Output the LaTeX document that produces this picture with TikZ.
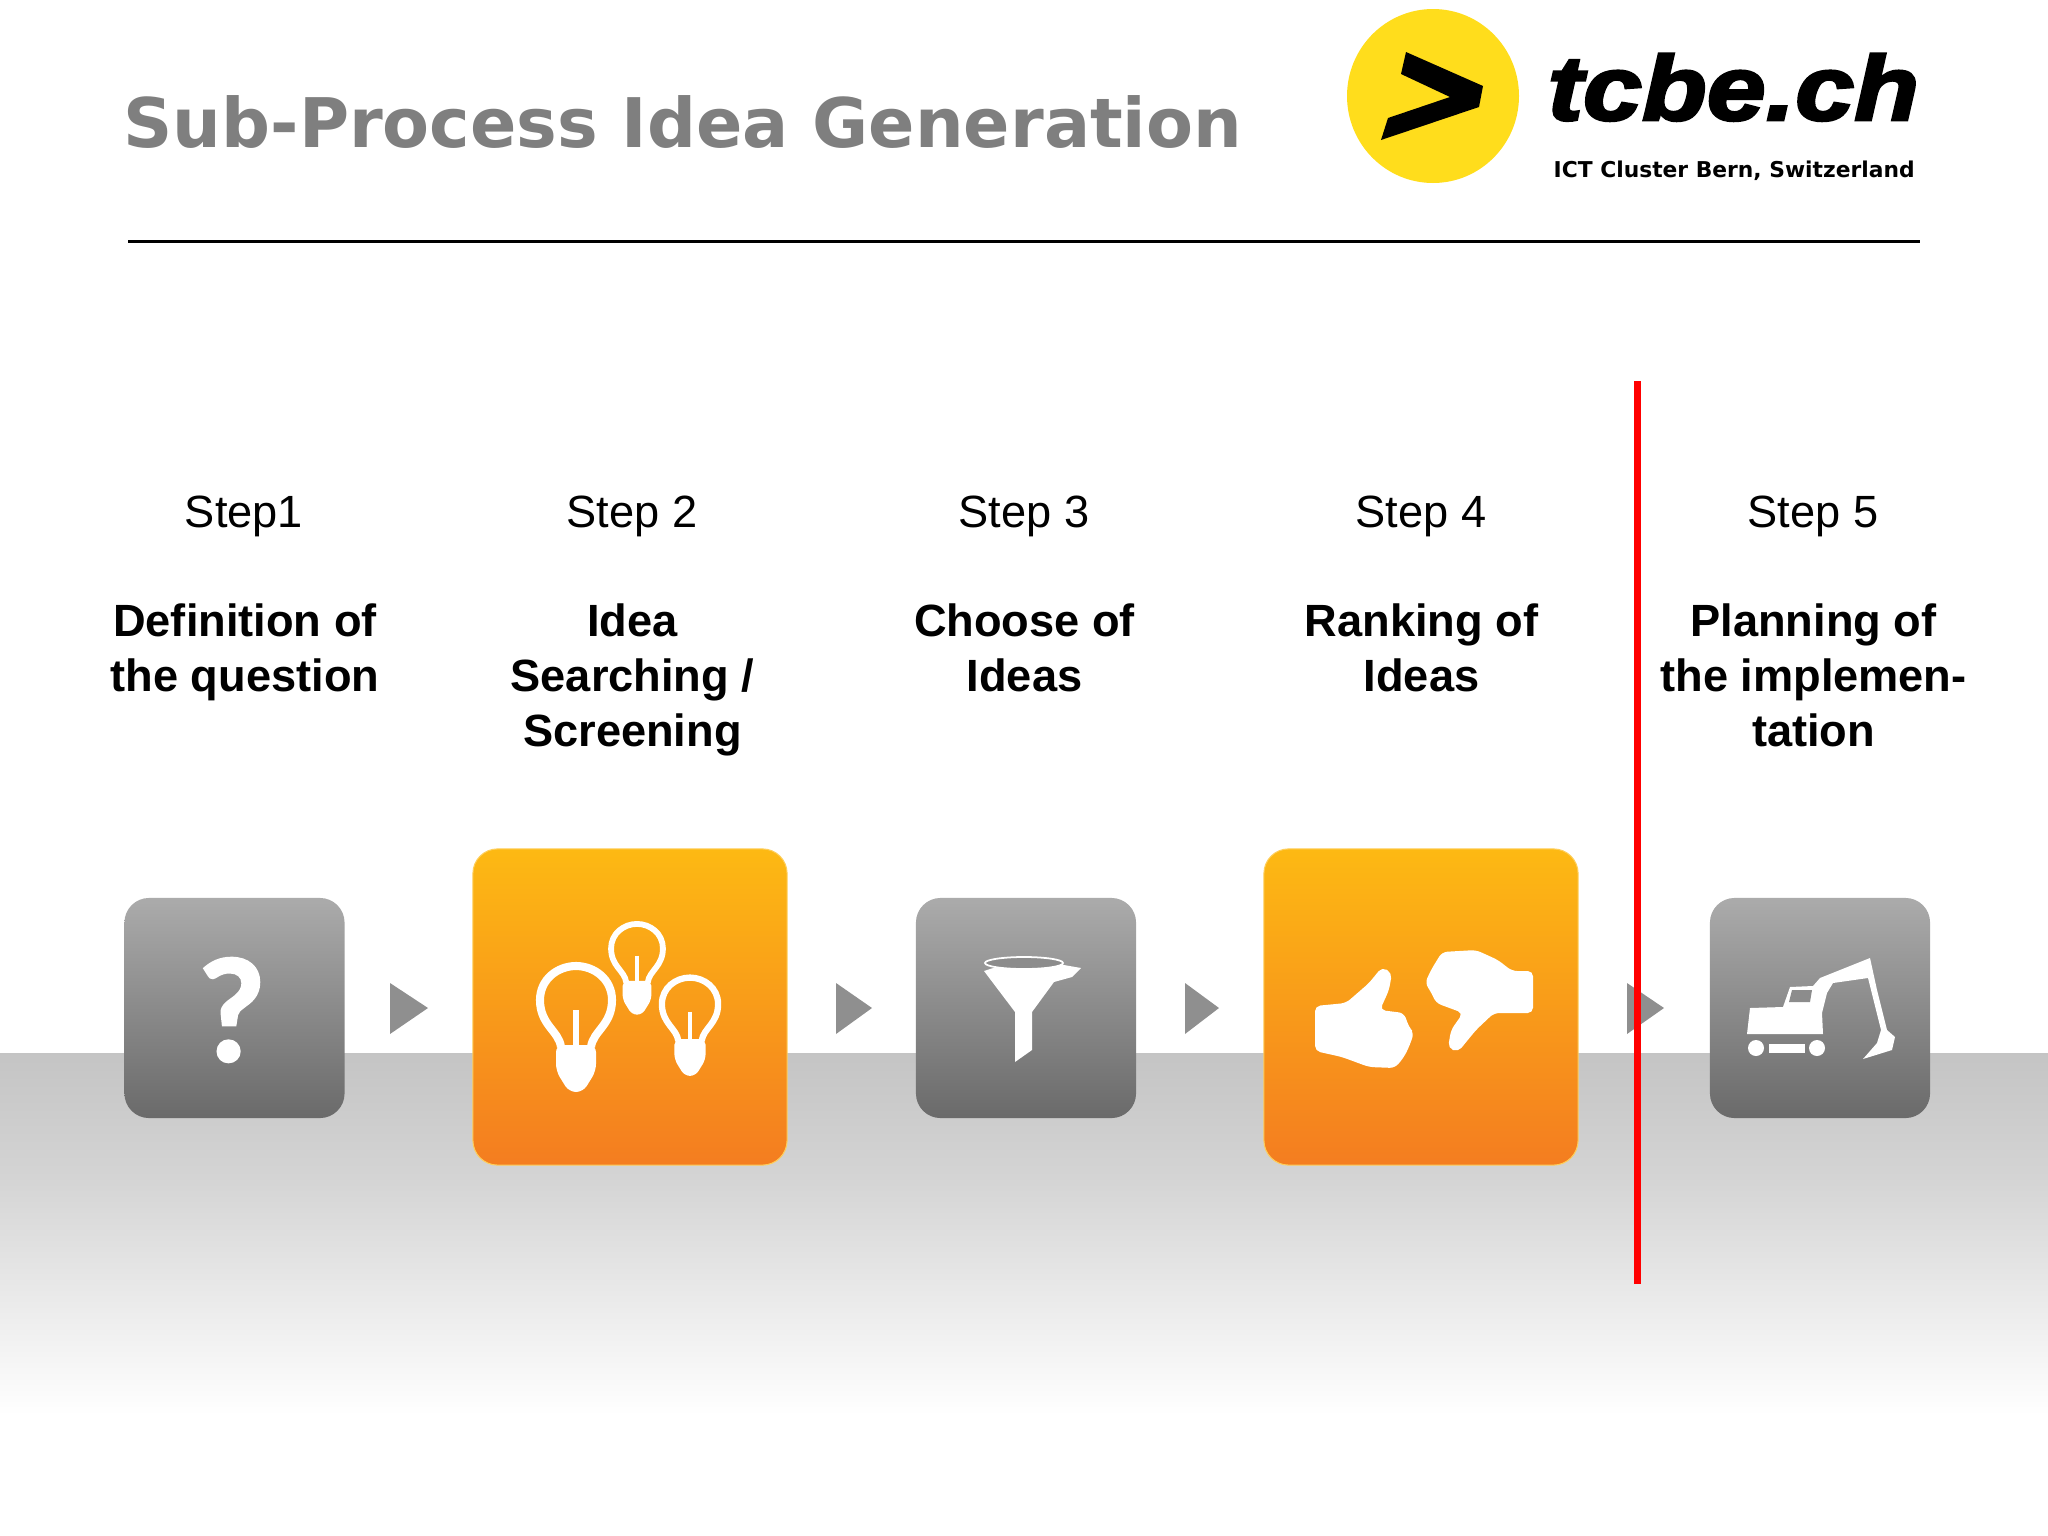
\documentclass[tikz,border=0pt]{standalone}
\usepackage{fontspec}
\setmainfont{Liberation Sans}
\newfontfamily\titlefont{DejaVu Sans}
\newfontfamily\questfont[BoldFeatures={FakeBold=2}]{Lato}
\newfontfamily\logofont[BoldItalicFeatures={FakeBold=3,FakeStretch=1.16}]{Liberation Sans}
\usetikzlibrary{shapes.geometric, positioning}
\definecolor{titlegray}{HTML}{7F7F7F}
\definecolor{tri}{HTML}{8F8F8F}
\definecolor{boxtop}{HTML}{ABABAB}
\definecolor{boxbot}{HTML}{6A6A6A}
\definecolor{ortop}{HTML}{FDB913}
\definecolor{orbot}{HTML}{F47D20}
\definecolor{logoy}{HTML}{FFDD1C}
\definecolor{icongray}{HTML}{8C8C8C}
\tikzset{
	graybox/.style={rounded corners=7pt, minimum width=2.2cm, minimum height=2.2cm, top color=boxtop, bottom color=boxbot, inner sep=0pt},
	orangebox/.style={rounded corners=7pt, minimum width=3.14cm, minimum height=3.16cm, top color=ortop, bottom color=orbot, draw=ortop!70, line width=.3pt, inner sep=0pt},
	steptext/.style={font=\fontsize{12.85}{15.65}\selectfont, anchor=base, inner sep=0pt},
	nametext/.style={font=\fontsize{12.85}{15.65}\selectfont\bfseries, align=center, anchor=north, inner sep=0pt},
	handfill/.style={fill=white, rounded corners=1.5pt}
}
\newcommand{\drawbulb}[3]{
	\begin{scope}[shift={(#1,#2)}, scale=#3]
		\draw[white, line width=#3*2.3pt] (-15,42) .. controls (-17,26) and (-36,20) .. (-36,-5) .. controls (-36,-26) and (-18,-39) .. (0,-39) .. controls (18,-39) and (36,-26) .. (36,-5) .. controls (36,20) and (17,26) .. (15,42);
		\draw[white, line width=#3*1.7pt] (0,5) -- (0,45);
		\fill[white, rounded corners=#3*2pt] (-20,40) -- (20,40) -- (20,66) -- (7,87) -- (-7,87) -- (-20,66) -- cycle;
	\end{scope}
}

\begin{document}
\begin{tikzpicture}[x=0.01cm, y=-0.01cm]
	\useasboundingbox (0,0) rectangle (2048,1536);
	
	% floor
	\shade[top color=black!23, bottom color=black!17, draw=none] (0,1053) rectangle (2048,1175);
	\shade[top color=black!17, bottom color=white, draw=none] (0,1175) rectangle (2048,1415);
	
	% header
	\node[font=\titlefont\fontsize{19.45}{22}\selectfont\bfseries, text=titlegray, anchor=base west, inner sep=0pt] (title) at (123,147) {Sub-Process Idea Generation};
	\coordinate (ruleL) at (128,241);
	\coordinate (ruleR) at (1920,241);
	\draw[line width=0.85pt] (ruleL) -- (ruleR);
	
	% logo
	\fill[logoy] (1433,96) ellipse (86 and 87);
	\fill[black] (1406,52) -- (1483,86) -- (1479,107) -- (1381,140) -- (1388,118) -- (1450,97) -- (1401,74) -- cycle;
	\node[font=\logofont\fontsize{26}{27}\selectfont\bfseries\itshape, anchor=base west, inner sep=0pt] (logoname) at (1547,120) {tcbe.ch};
	\node[font=\titlefont\fontsize{6.2}{7}\selectfont\bfseries, anchor=base west, inner sep=0pt] (logosub) at (1553,177) {ICT Cluster Bern, Switzerland};
	
	% labels
	\node[steptext] (s1) at (244,527) {Step1};
	\node[steptext] (s2) at (632,527) {Step 2};
	\node[steptext] (s3) at (1024,527) {Step 3};
	\node[steptext] (s4) at (1421,527) {Step 4};
	\node[steptext] (s5) at (1813,527) {Step 5};
	
	\node[nametext] (n1) at (245,603) {Definition of\\the question};
	\node[nametext] (n2) at (632.5,603) {Idea\\Searching /\\Screening};
	\node[nametext] (n3) at (1024.5,603) {Choose of\\Ideas};
	\node[nametext] (n4) at (1421.5,603) {Ranking of\\Ideas};
	\node[nametext] (n5) at (1813.5,603) {Planning of\\the implemen-\\tation};
	
	% boxes
	\node[graybox] (b1) at (234.5,1008) {};
	\node[orangebox] (b2) at (630,1007) {};
	\node[graybox] (b3) at (1026,1008) {};
	\node[orangebox] (b4) at (1421,1007) {};
	\node[graybox] (b5) at (1820,1008) {};
	
	\fill[tri] (390,983) -- (428,1008) -- (390,1034) -- cycle;
	\fill[tri] (836,983) -- (872,1008) -- (836,1034) -- cycle;
	\fill[tri] (1185,983) -- (1219,1008) -- (1185,1034) -- cycle;
	\fill[tri] (1627,983) -- (1664,1008) -- (1627,1034) -- cycle;
	
	% question mark
	\node[font=\questfont\fontsize{40}{41}\selectfont\bfseries, text=white, inner sep=0pt] (q) at (232,1010) {?};
	
	% bulbs
	\drawbulb{576}{1005}{1}
	\drawbulb{637}{952}{.72}
	\drawbulb{690}{1008}{.78}
	
	% funnel
	\fill[white] (984,971) -- (1024,958) -- (1081,968) -- (1072,977) -- (1054,982) -- (1032,1012) -- (1032,1050) -- (1015,1062) -- (1015,1012) -- cycle;
	\draw[white, fill=icongray, line width=0.5pt] (1024,963) ellipse (39 and 6);
	
	% thumbs
	\path[handfill] (1315,1006) -- (1346,1003) -- (1369,983) -- (1382,967) -- (1392,973) -- (1389,990) -- (1380,1010) -- (1404,1013) -- (1409,1027) -- (1414,1033) -- (1409,1047) -- (1404,1057) -- (1395,1068) -- (1369,1067) -- (1342,1057) -- (1315,1051) -- cycle;
	\path[handfill] (1533,971) -- (1533,1013) -- (1494,1013) -- (1476,1030) -- (1458,1052) -- (1448,1048) -- (1451,1030) -- (1463,1013) -- (1436,1003) -- (1431,992) -- (1425,983) -- (1431,970) -- (1442,952) -- (1476,950) -- (1498,960) -- (1512,971) -- cycle;
	
	% excavator
	\fill[white] (1750,1008) -- (1783,1007) -- (1790,987) -- (1813,986) -- (1820,978) -- (1870,958) -- (1877,990) -- (1887,1030) -- (1895,1037) -- (1892,1050) -- (1863,1059) -- (1877,1043) -- (1881,1030) -- (1868,978) -- (1833,983) -- (1827,993) -- (1822,1013) -- (1823,1034) -- (1747,1034) -- cycle;
	\fill[icongray] (1792,990) -- (1812,990) -- (1810,1002) -- (1789,1002) -- cycle;
	\fill[white] (1756,1048) circle (8);
	\fill[white] (1817,1048) circle (8);
	\fill[white] (1769,1044) rectangle (1805,1053);
	
	% cut line
	\coordinate (cutT) at (1637,381);
	\coordinate (cutB) at (1637,1284);
	\draw[red, line width=2pt] (cutT) -- (cutB);
\end{tikzpicture}
\end{document}
